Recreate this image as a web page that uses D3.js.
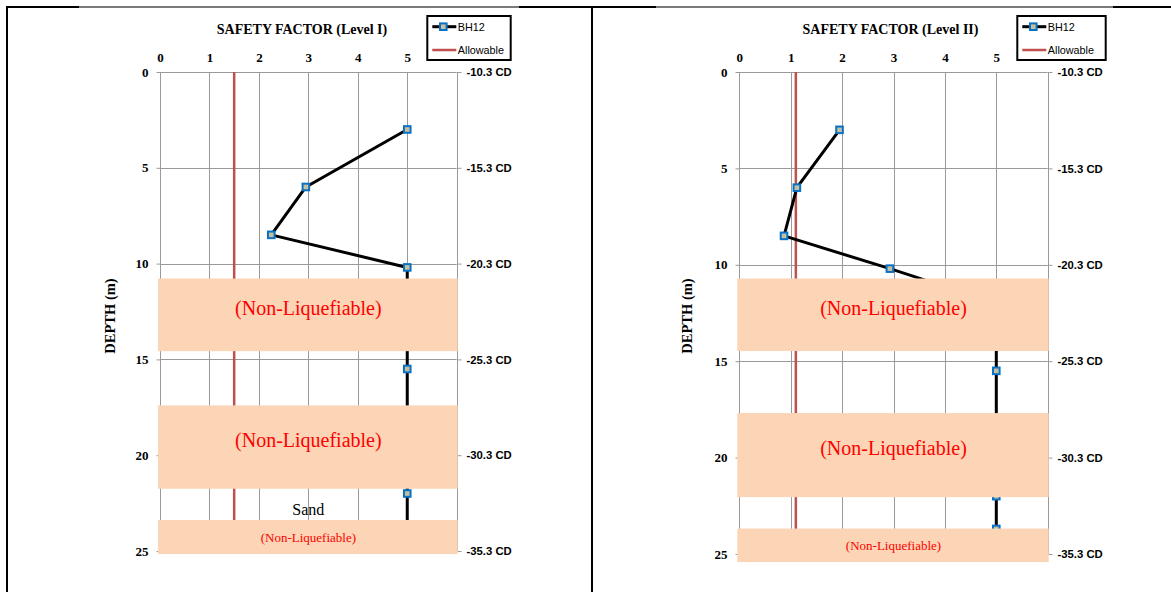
<!DOCTYPE html>
<html>
<head>
<meta charset="utf-8">
<script src="https://cdn.jsdelivr.net/npm/d3@7"></script>
<style>
  body { margin: 0; background: #fff; }
  svg { display: block; }
</style>
</head>
<body>
<svg id="fig" width="1171" height="592"></svg>
<script>
// ---- data ---------------------------------------------------------------
const depths = [3, 6, 8.5, 10.2, 12, 15.5, 22, 23.7];          // m below seabed
const bh12Level1 = [5, 2.95, 2.25, 5, 5, 5, 5, 5];              // safety factor, Level I
const bh12Level2 = [1.95, 1.12, 0.87, 2.93, 5, 5, 5, 5];        // safety factor, Level II
const allowableLevel1 = 1.5;
const allowableLevel2 = 1.1;

const factorGrid = [0, 1, 2, 3, 4, 5, 6];
const factorLabels = [0, 1, 2, 3, 4, 5];                         // the 6 sits under the legend
const depthTicks = [0, 5, 10, 15, 20, 25];
const elevationLabels = ["-10.3 CD", "-15.3 CD", "-20.3 CD", "-25.3 CD", "-30.3 CD", "-35.3 CD"];

// non-liquefiable layers [top, bottom] in m
const layersLevel1 = [[10.78, 14.57], [17.4, 21.75], [23.38, 25.16]];
const layersLevel2 = [[10.71, 14.47], [17.69, 22.05], [23.68, 25.42]];
const layerText = "(Non-Liquefiable)";
const sandNoteLevel1 = [{ text: "Sand", depth: 23.1 }];

const titles = ["SAFETY FACTOR (Level I)", "SAFETY FACTOR (Level II)"];
const seriesNames = ["BH12", "Allowable"];
const depthTitle = "DEPTH (m)";

// ---- layout -------------------------------------------------------------
const SERIF = "'Liberation Serif', 'Times New Roman', serif";
const SANS = "'Liberation Sans', Arial, sans-serif";

const panels = [
  { values: bh12Level1, allowable: allowableLevel1, layers: layersLevel1, notes: sandNoteLevel1,
    title: titles[0], left: 160, right: 456.7, top: 72, bottom: 551,
    titleX: 302, depthX: 115, legend: { x: 427.3, y: 16, w: 83.4, h: 44 } },
  { values: bh12Level2, allowable: allowableLevel2, layers: layersLevel2, notes: [],
    title: titles[1], left: 739.3, right: 1047.7, top: 72, bottom: 554,
    titleX: 890.5, depthX: 692, legend: { x: 1017.3, y: 16, w: 88.4, h: 44 } }
];

const svg = d3.select("#fig");

// table frame around the two figures
const frame = svg.append("g");
frame.append("line").attr("x1", 6).attr("x2", 1171).attr("y1", 7).attr("y2", 7)
  .attr("stroke", "#000").attr("stroke-width", 2);
[[79, 519], [656, 1113]].forEach(([a, b]) => {
  frame.append("line").attr("x1", a).attr("x2", b).attr("y1", 7).attr("y2", 7)
    .attr("stroke", "#7a7a7a").attr("stroke-width", 2);
});
[7, 592].forEach(xp => {
  frame.append("line").attr("x1", xp).attr("x2", xp).attr("y1", 6).attr("y2", 592)
    .attr("stroke", "#000").attr("stroke-width", 2);
});

panels.forEach(drawPanel);

function drawPanel(p) {
  const x = d3.scaleLinear().domain([0, 6]).range([p.left, p.right]);
  const y = d3.scaleLinear().domain([0, 25]).range([p.top, p.bottom]);
  const crisp = v => Math.round(v) + 0.5;
  const g = svg.append("g");

  // grid
  g.append("g").selectAll("line").data(factorGrid).join("line")
    .attr("x1", d => crisp(x(d))).attr("x2", d => crisp(x(d)))
    .attr("y1", y(0)).attr("y2", y(25))
    .attr("stroke", "#9a9a9a").attr("stroke-width", 1);
  g.append("g").selectAll("line").data(depthTicks).join("line")
    .attr("x1", x(0)).attr("x2", x(6))
    .attr("y1", d => crisp(y(d))).attr("y2", d => crisp(y(d)))
    .attr("stroke", "#9a9a9a").attr("stroke-width", 1);

  // top axis: safety factor
  const topAxis = g.append("g").attr("transform", `translate(0,${p.top})`)
    .call(d3.axisTop(x).tickValues(factorLabels).tickFormat(d3.format("d"))
      .tickSize(0).tickPadding(10));
  // left axis: depth
  const leftAxis = g.append("g").attr("transform", `translate(${crisp(p.left)},0)`)
    .call(d3.axisLeft(y).tickValues(depthTicks).tickFormat(d3.format("d"))
      .tickSizeInner(4).tickSizeOuter(0).tickPadding(8));
  // right axis: elevation (CD)
  const rightAxis = g.append("g").attr("transform", `translate(${crisp(p.right)},0)`)
    .call(d3.axisRight(y).tickValues(depthTicks).tickSizeInner(4).tickSizeOuter(0).tickPadding(5)
      .tickFormat((d, i) => elevationLabels[i]));

  [topAxis, leftAxis, rightAxis].forEach(a => {
    a.attr("font-family", null).attr("font-size", null);
    a.select(".domain").remove();
    a.selectAll(".tick line").attr("stroke", "#9a9a9a");
    a.selectAll(".tick text").attr("fill", "#000");
  });
  topAxis.selectAll("text").style("font-family", SERIF).style("font-weight", "bold").style("font-size", "13px");
  leftAxis.selectAll("text").style("font-family", SERIF).style("font-weight", "bold").style("font-size", "13px");
  rightAxis.selectAll("text").style("font-family", SANS).style("font-weight", "bold").style("font-size", "11.3px");

  // allowable safety factor
  g.append("line")
    .attr("x1", x(p.allowable)).attr("x2", x(p.allowable))
    .attr("y1", y(0)).attr("y2", y(25))
    .attr("stroke", "#c0504d").attr("stroke-width", 2.5);

  // BH12 profile
  const pts = depths.map((d, i) => ({ depth: d, sf: p.values[i] }));
  g.append("path").datum(pts)
    .attr("d", d3.line().x(d => x(d.sf)).y(d => y(d.depth)))
    .attr("fill", "none").attr("stroke", "#000").attr("stroke-width", 3)
    .attr("stroke-linejoin", "round");
  g.append("g").selectAll("rect").data(pts).join("rect")
    .attr("x", d => x(d.sf) - 3.3).attr("y", d => y(d.depth) - 3.3)
    .attr("width", 6.6).attr("height", 6.6)
    .attr("fill", "#c6bf9f").attr("stroke", "#0a72c4").attr("stroke-width", 2);

  // non-liquefiable layers
  const lay = g.append("g");
  p.layers.forEach(([t, b]) => {
    const thin = (b - t) < 2.5;
    lay.append("rect")
      .attr("x", x(0) - 2).attr("width", x(6) - x(0) + 3)
      .attr("y", y(t)).attr("height", y(b) - y(t))
      .attr("fill", "#fbd5b5");
    lay.append("text")
      .attr("x", (x(0) + x(6)) / 2)
      .attr("y", (y(t) + y(b)) / 2 + (thin ? 5 : 0))
      .attr("text-anchor", "middle")
      .style("font-family", SERIF).style("font-size", thin ? "13px" : "20px")
      .attr("fill", "#ff0000")
      .text(layerText);
  });
  p.notes.forEach(n => {
    g.append("text")
      .attr("x", (x(0) + x(6)) / 2).attr("y", y(n.depth))
      .attr("text-anchor", "middle")
      .style("font-family", SERIF).style("font-size", "16px").attr("fill", "#000")
      .text(n.text);
  });

  // legend
  const L = p.legend;
  const lg = g.append("g").attr("transform", `translate(${L.x},${L.y})`);
  lg.append("rect").attr("width", L.w).attr("height", L.h)
    .attr("fill", "#fff").attr("stroke", "#000").attr("stroke-width", 2);
  lg.append("line").attr("x1", 5).attr("x2", 29).attr("y1", 10.7).attr("y2", 10.7)
    .attr("stroke", "#000").attr("stroke-width", 3);
  lg.append("rect").attr("x", 16 - 3.3).attr("y", 10.7 - 3.3).attr("width", 6.6).attr("height", 6.6)
    .attr("fill", "#c6bf9f").attr("stroke", "#0a72c4").attr("stroke-width", 2);
  lg.append("line").attr("x1", 5).attr("x2", 29).attr("y1", 34).attr("y2", 34)
    .attr("stroke", "#c0504d").attr("stroke-width", 2.5);
  lg.selectAll("text").data(seriesNames).join("text")
    .attr("x", 30.5).attr("y", (d, i) => i ? 38 : 14.6)
    .style("font-family", SANS).style("font-size", "10.8px").attr("fill", "#000")
    .text(d => d);

  // titles
  g.append("text").attr("x", p.titleX).attr("y", 34)
    .attr("text-anchor", "middle")
    .style("font-family", SERIF).style("font-weight", "bold").style("font-size", "14px")
    .text(p.title);
  g.append("text")
    .attr("transform", `translate(${p.depthX},316) rotate(-90)`)
    .attr("text-anchor", "middle")
    .style("font-family", SERIF).style("font-weight", "bold").style("font-size", "14.5px")
    .text(depthTitle);
}
</script>
</body>
</html>
